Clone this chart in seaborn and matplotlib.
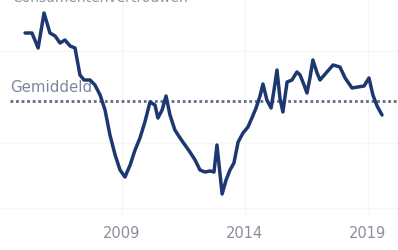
import numpy as np
import pandas as pd
import matplotlib
matplotlib.use("Agg")
import matplotlib.pyplot as plt
import seaborn as sns

# data (year as decimal, index value)
years = [2005.06, 2005.34, 2005.59, 2005.83, 2006.07, 2006.28, 2006.48, 2006.68,
         2006.89, 2007.09, 2007.29, 2007.46, 2007.70, 2007.90, 2008.11, 2008.31,
         2008.51, 2008.72, 2008.92, 2009.12, 2009.33, 2009.53, 2009.73, 2009.93,
         2010.14, 2010.34, 2010.46, 2010.63, 2010.79, 2010.95, 2011.15, 2011.36,
         2011.56, 2011.76, 2011.97, 2012.17, 2012.37, 2012.58, 2012.74, 2012.86,
         2013.07, 2013.23, 2013.39, 2013.55, 2013.72, 2013.92, 2014.12, 2014.28,
         2014.45, 2014.61, 2014.73, 2014.89, 2015.06, 2015.18, 2015.30, 2015.42,
         2015.54, 2015.71, 2015.91, 2016.11, 2016.24, 2016.40, 2016.52, 2016.64,
         2016.76, 2016.93, 2017.05, 2017.33, 2017.58, 2017.86, 2018.07, 2018.35,
         2018.59, 2018.84, 2019.04, 2019.20, 2019.37, 2019.57]
values = [23.2, 23.2, 17.2, 31.2, 23.2, 22.0, 19.2, 20.4,
          18.0, 17.2, 6.4, 4.4, 4.4, 2.4, -1.6, -7.6,
          -17.6, -25.6, -31.6, -34.4, -29.6, -23.6, -18.8, -12.4,
          -4.4, -5.6, -10.8, -7.6, -2.0, -9.6, -15.6, -18.8,
          -21.6, -24.4, -27.6, -31.6, -32.4, -32.0, -32.4, -21.6,
          -41.2, -35.6, -31.6, -28.8, -20.4, -16.8, -14.4, -10.8,
          -6.8, -2.0, 2.8, -3.6, -6.8, 0.4, 8.4, -2.8,
          -8.4, 3.6, 4.4, 7.6, 6.4, 2.4, -0.8, 5.2,
          12.4, 7.2, 4.4, 7.6, 10.4, 9.6, 5.2, 1.2,
          1.6, 2.0, 5.2, -1.6, -6.0, -9.6]
average = -4.0
tick_years = [2009, 2014, 2019]
grid_values = [16.0, -20.8, -46.8]

df = pd.DataFrame({"jaar": years, "waarde": values})

sns.set_style("white")
plt.rcParams["font.family"] = ["DejaVu Sans"]

fig = plt.figure(figsize=(3.98, 2.5), dpi=100)
ax = fig.add_axes([0, 35 / 250, 1, 215 / 250])

# very faint grid
for g in grid_values:
    ax.axhline(g, color="#f5f5f5", lw=1, zorder=0)
for t in tick_years:
    ax.axvline(t, color="#f6f6f6", lw=1, zorder=0)

# average line
ax.axhline(average, xmin=0.025, xmax=1, color="#5d6d8e", lw=2,
           linestyle=(0, (1, 1)), zorder=1)
ax.text(2004.45, average + 2.4, "Gemiddeld", color="#7d889c", fontsize=10.8,
        ha="left", va="bottom")

sns.lineplot(data=df, x="jaar", y="waarde", ax=ax, color="#1d3770",
             linewidth=2.5, zorder=3)

ax.set_xlim(2004.04, 2020.22)
ax.set_ylim(-49.6, 36.4)
ax.set_xticks(tick_years)
ax.set_xticklabels([str(t) for t in tick_years])
ax.set_yticks([])
ax.tick_params(axis="x", length=0, labelsize=10.5, colors="#8a8f99", pad=8)
ax.set_xlabel("")
ax.set_ylabel("")
for s in ax.spines.values():
    s.set_visible(False)

# title, mostly above the top edge as in the source crop
fig.text(0.03, 1 - 2.5 / 250, "Consumentenvertrouwen", color="#8a95a8",
         fontsize=10, ha="left", va="baseline")

fig.savefig("out.png", dpi=100)
